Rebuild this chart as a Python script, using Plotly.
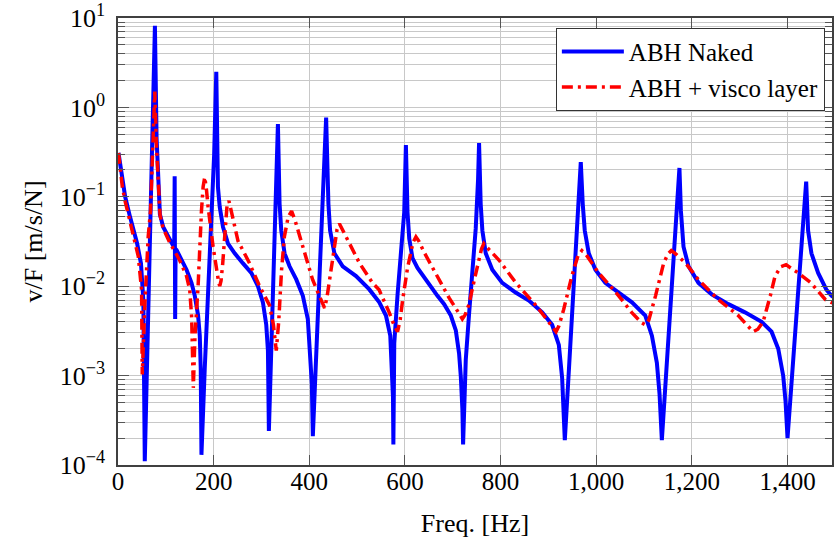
import plotly.graph_objects as go

# ---- data (frequency [Hz], v/F [m/s/N]) ----
naked_freq = [1, 5, 9, 15, 25, 40, 48, 53, 56, 58, 60.5, 64.6, 68.8, 73.6, 77.2,
              80.7, 84, 87.6, 94.5, 105, 112, 117.5, 118.5, 119.5, 120.5, 122.4,
              132.8, 143.3, 153.7, 160.6, 167.5, 171, 173, 174.5, 181.4, 188.4,
              195.4, 201, 205.5, 209, 212.7, 219.6, 230, 244, 261, 278.8, 292.6,
              303, 310, 313.5, 315.5, 320.5, 326.8, 332.2, 334.4, 337.9, 341.4,
              348.3, 358.7, 372.7, 386.5, 396.9, 401.9, 405.3, 407.4, 413.4, 419.8,
              426, 431.7, 435.2, 440, 443.5, 452.5, 469.9, 497.8, 525.5, 546.4,
              560.3, 569.3, 572.8, 575, 575.8, 577.7, 584.6, 591.7, 598.5, 602,
              605.4, 609, 615.8, 626.3, 640.3, 654.2, 668, 682, 696, 706.4, 713.2,
              716.8, 720.1, 721.6, 727.2, 734.1, 741, 748, 752.9, 755, 758.4, 761.9,
              769, 782.7, 803.5, 831.5, 859.2, 887, 907.8, 921.8, 928.7, 932.2,
              934.3, 942.6, 953, 962, 967.7, 971.8, 976, 984.4, 998.3, 1019, 1047,
              1074.7, 1102.6, 1116.4, 1126.8, 1132.4, 1137.2, 1147.7, 1158, 1167,
              1174, 1177, 1182.5, 1193, 1213.8, 1241.5, 1276.3, 1311, 1345.8,
              1366.6, 1380.6, 1391, 1395.8, 1400, 1412, 1422, 1432, 1439, 1443,
              1450, 1464, 1481, 1492, 1500]
naked_vel = [0.31, 0.22, 0.15, 0.10, 0.06, 0.030, 0.018, 0.007, 1.1e-4, 0.0003,
             0.00098, 0.0089, 0.083, 1.0, 8.2, 0.45, 0.128, 0.064, 0.046, 0.036,
             0.030, 0.027, 0.17, 0.0043, 0.026, 0.0254, 0.0197, 0.0153, 0.0109,
             0.0078, 0.0047, 0.0028, 0.0012, 1.3e-4, 0.0012, 0.0100, 0.083, 0.29,
             2.5, 0.128, 0.077, 0.046, 0.030, 0.0233, 0.0181, 0.0141, 0.0100,
             0.0066, 0.0037, 0.0019, 2.4e-4, 0.0018, 0.022, 0.19, 0.65, 0.083,
             0.042, 0.0233, 0.0167, 0.0119, 0.0078, 0.0043, 0.0019, 8.1e-4, 2.1e-4,
             0.00117, 0.0062, 0.034, 0.156, 0.77, 0.083, 0.042, 0.0233, 0.0167,
             0.0130, 0.0092, 0.0066, 0.0047, 0.0028, 0.00133, 5.7e-4, 1.7e-4,
             0.0023, 0.0081, 0.0223, 0.067, 0.38, 0.067, 0.034, 0.0206, 0.016,
             0.0124, 0.0096, 0.0078, 0.0063, 0.0047, 0.0032, 0.00177, 0.00098,
             4.25e-4, 1.7e-4, 0.0015, 0.0049, 0.0135, 0.044, 0.156, 0.40, 0.083,
             0.042, 0.0233, 0.0153, 0.0109, 0.0085, 0.0069, 0.0051, 0.0037, 0.0022,
             9.4e-4, 4.0e-4, 1.9e-4, 0.0011, 0.0098, 0.066, 0.245, 0.083, 0.042,
             0.0233, 0.0153, 0.0109, 0.0085, 0.0066, 0.0047, 0.0028, 0.00139,
             6.2e-4, 1.9e-4, 0.0015, 0.0112, 0.063, 0.21, 0.070, 0.0277, 0.0167,
             0.0109, 0.0081, 0.0063, 0.0051, 0.0040, 0.0031, 0.0020, 9.9e-4, 5.2e-4,
             2.0e-4, 0.00158, 0.0096, 0.058, 0.148, 0.042, 0.0233, 0.0141, 0.0092,
             0.0078, 0.0073]

visco_freq = [1, 5, 9, 15, 28.5, 42.4, 49.3, 50.7, 56.3, 59.8, 63.2, 68, 73, 77, 80,
              88, 94, 108, 129, 143.3, 150, 154, 157.5, 161, 167.5, 171, 174.5, 178,
              181.4, 185, 188.4, 198.8, 205.7, 210, 212.7, 215.5, 219, 223, 228, 232,
              237, 251, 275, 296, 317, 325, 331, 336, 342, 348, 356, 363, 370, 380,
              394, 407, 421, 428, 432, 437, 442, 453, 458, 463, 470, 484, 505, 532,
              546, 567, 577, 584.6, 590, 595, 605.4, 612.5, 617, 623, 629, 640,
              657.6, 675, 692.4, 709.7, 716, 720, 726, 734, 744.5, 755, 760, 765,
              772, 797, 832, 874, 895, 910, 916, 922, 932, 949, 962, 970, 980, 1005,
              1047, 1074, 1095, 1103, 1110, 1124, 1141, 1150, 1157, 1166, 1187, 1214,
              1255, 1297, 1318, 1328, 1338, 1349, 1364, 1374, 1386, 1397, 1408, 1422,
              1449, 1479, 1491, 1500]
visco_vel = [0.31, 0.2, 0.13, 0.089, 0.046, 0.0216, 0.0091, 0.00103, 0.0066, 0.0168,
             0.036, 0.07, 0.35, 1.5, 0.4, 0.062, 0.045, 0.031, 0.0195, 0.0130,
             0.0091, 0.0045, 7.3e-4, 0.0028, 0.01, 0.032, 0.069, 0.13, 0.166, 0.12,
             0.077, 0.0278, 0.0152, 0.0115, 0.0100, 0.0115, 0.018, 0.036, 0.08,
             0.090, 0.07, 0.032, 0.0181, 0.01, 0.0061, 0.0037, 0.0019, 0.004,
             0.0152, 0.036, 0.06, 0.069, 0.055, 0.036, 0.0195, 0.0118, 0.0078,
             0.0062, 0.0057, 0.0075, 0.0118, 0.0278, 0.043, 0.050, 0.042, 0.030,
             0.0181, 0.0109, 0.0091, 0.0051, 0.0037, 0.0031, 0.0042, 0.0069, 0.016,
             0.024, 0.031, 0.0356, 0.032, 0.024, 0.016, 0.0109, 0.0074, 0.0053,
             0.0046, 0.0043, 0.0048, 0.0063, 0.0114, 0.0189, 0.026, 0.030, 0.027,
             0.0195, 0.0109, 0.0061, 0.0043, 0.0033, 0.0031, 0.0036, 0.0055, 0.013,
             0.022, 0.025, 0.022, 0.0141, 0.0078, 0.0051, 0.0039, 0.0037, 0.0042,
             0.0078, 0.0181, 0.023, 0.025, 0.023, 0.0181, 0.0118, 0.0071, 0.0047,
             0.0035, 0.0031, 0.0033, 0.0040, 0.0078, 0.013, 0.0165, 0.0174, 0.0158,
             0.0141, 0.0109, 0.0071, 0.0066, 0.0064]

series_names = ["ABH Naked", "ABH + visco layer"]
x_ticks = [0, 200, 400, 600, 800, 1000, 1200, 1400]
y_ticks = [1e-4, 1e-3, 1e-2, 1e-1, 1e0, 1e1]
y_tick_text = ["10<sup>\u22124</sup>", "10<sup>\u22123</sup>", "10<sup>\u22122</sup>",
               "10<sup>\u22121</sup>", "10<sup>0</sup>", "10<sup>1</sup>"]

assert len(naked_freq) == len(naked_vel), (len(naked_freq), len(naked_vel))
assert len(visco_freq) == len(visco_vel), (len(visco_freq), len(visco_vel))

FONT = "Liberation Serif"
GRID = "#c8c8c8"
AXIS = "#404040"

minor_vals = [k * 10.0 ** e for e in range(-4, 1) for k in range(2, 10)]

fig = go.Figure()
fig.add_trace(go.Scatter(x=naked_freq, y=naked_vel, mode="lines", name=series_names[0],
                         line=dict(color="#0000ff", width=4)))
fig.add_trace(go.Scatter(x=visco_freq, y=visco_vel, mode="lines", name=series_names[1],
                         line=dict(color="#ff0000", width=3.5, dash="11px,5px,3px,5px")))

fig.update_layout(
    width=834, height=547,
    margin=dict(l=118, r=0, t=11, b=82),
    paper_bgcolor="white", plot_bgcolor="white",
    font=dict(family=FONT, size=25, color="black"),
    legend=dict(x=0.99, y=0.978, xanchor="right", yanchor="top",
                bgcolor="white", bordercolor="#333333", borderwidth=1,
                font=dict(family=FONT, size=25), tracegroupgap=0, itemwidth=62),
    xaxis=dict(range=[0, 1493], tickvals=x_ticks, tickformat=",",
               ticks="inside", ticklen=10, tickcolor="#555555", tickwidth=1,
               showline=True, linecolor=AXIS, linewidth=1.5, mirror="ticks",
               showgrid=True, gridcolor=GRID, gridwidth=1, zeroline=False,
               ticklabelstandoff=-7,
               title=dict(text="Freq. [Hz]", font=dict(size=26), standoff=20),
               tickfont=dict(size=25)),
    yaxis=dict(type="log", range=[-4, 1], tickvals=y_ticks, ticktext=y_tick_text,
               ticks="inside", ticklen=11, tickcolor="#555555", tickwidth=1,
               showline=True, linecolor=AXIS, linewidth=1.5, mirror="ticks",
               showgrid=True, gridcolor=GRID, gridwidth=1, zeroline=False,
               ticklabelstandoff=6, ticklabeloverflow="allow",
               minor=dict(tickvals=minor_vals, ticks="inside", ticklen=7,
                          tickcolor="#555555", showgrid=True, gridcolor=GRID,
                          gridwidth=1),
               title=dict(text="v/F [m/s/N]", font=dict(size=26), standoff=10),
               tickfont=dict(size=26)),
)

fig.write_html("out.html")
